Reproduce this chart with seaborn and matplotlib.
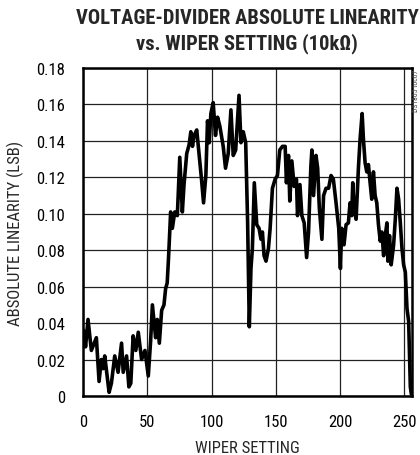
import pandas as pd
import matplotlib
matplotlib.use('Agg')
import matplotlib.pyplot as plt
import seaborn as sns

# Values (wiper code, linearity in LSB)
wiper = [0.5, 2.0, 3.9, 6.5, 10.4, 12.5, 14.3, 15.6, 16.9, 20.3, 22.1, 24.7,
         27.3, 30.0, 31.3, 33.9, 35.7, 37.2, 39.0, 41.1, 43.0, 45.6, 48.2, 50.8,
         52.6, 54.0, 56.5, 57.8, 59.4, 61.2, 63.0, 64.3, 65.5, 66.5, 68.2, 69.5,
         71.4, 73.4, 75.3, 77.3, 78.6, 80.7, 82.6, 83.9, 85.2, 86.5, 88.5, 90.4,
         92.2, 93.8, 95.6, 96.9, 98.2, 99.5, 101.3, 103.1, 104.7, 106.5, 109.1,
         110.9, 113.0, 115.1, 116.9, 118.8, 121.4, 122.9, 124.7, 126.6, 128.1,
         129.4, 130.7, 131.8, 133.3, 135.2, 137.0, 138.5, 139.6, 140.9, 142.4,
         144.3, 145.6, 147.4, 149.5, 151.3, 153.1, 155.2, 157.3, 158.3, 159.9,
         160.9, 162.5, 164.3, 166.1, 166.9, 168.8, 170.3, 172.1, 174.0, 175.5,
         177.3, 178.1, 179.4, 181.3, 182.6, 183.9, 185.9, 187.2, 189.1, 191.1,
         193.0, 194.8, 196.9, 199.0, 200.3, 201.3, 203.1, 204.7, 206.5, 207.8,
         209.1, 209.9, 210.9, 212.5, 214.3, 215.6, 217.2, 218.2, 219.5, 220.8,
         222.1, 223.4, 224.7, 226.0, 227.3, 228.6, 229.9, 231.3, 232.6, 233.9,
         235.2, 236.5, 237.2, 238.5, 239.8, 241.7, 243.0, 244.3, 245.6, 246.9,
         248.2, 249.5, 250.8, 252.1, 253.4, 254.7, 255.5]
linearity = [0.036, 0.027, 0.042, 0.025, 0.032, 0.008, 0.020, 0.015, 0.022, 0.002,
             0.007, 0.022, 0.013, 0.029, 0.013, 0.022, 0.005, 0.007, 0.033, 0.025,
             0.035, 0.020, 0.025, 0.011, 0.030, 0.050, 0.032, 0.042, 0.029, 0.047,
             0.050, 0.059, 0.062, 0.075, 0.101, 0.092, 0.101, 0.099, 0.131, 0.101,
             0.116, 0.133, 0.138, 0.145, 0.137, 0.143, 0.146, 0.132, 0.119, 0.106,
             0.121, 0.151, 0.139, 0.155, 0.161, 0.143, 0.153, 0.148, 0.137, 0.125,
             0.133, 0.157, 0.132, 0.135, 0.165, 0.139, 0.145, 0.139, 0.095, 0.038,
             0.070, 0.081, 0.117, 0.094, 0.092, 0.086, 0.090, 0.077, 0.074, 0.081,
             0.092, 0.114, 0.119, 0.121, 0.135, 0.137, 0.137, 0.117, 0.132, 0.107,
             0.129, 0.115, 0.119, 0.099, 0.116, 0.099, 0.095, 0.076, 0.090, 0.126,
             0.135, 0.110, 0.132, 0.125, 0.103, 0.086, 0.110, 0.114, 0.114, 0.121,
             0.119, 0.106, 0.092, 0.070, 0.092, 0.083, 0.094, 0.095, 0.106, 0.099,
             0.117, 0.103, 0.097, 0.125, 0.141, 0.155, 0.141, 0.128, 0.123, 0.127,
             0.117, 0.108, 0.123, 0.110, 0.106, 0.094, 0.085, 0.090, 0.077, 0.088,
             0.095, 0.074, 0.088, 0.072, 0.083, 0.097, 0.114, 0.108, 0.095, 0.081,
             0.072, 0.068, 0.048, 0.041, 0.005, 0.001]

x_ticks = [0, 50, 100, 150, 200, 250]
y_ticks = [0, 0.02, 0.04, 0.06, 0.08, 0.10, 0.12, 0.14, 0.16, 0.18]
y_labels = ['0', '0.02', '0.04', '0.06', '0.08', '0.10', '0.12', '0.14', '0.16', '0.18']

df = pd.DataFrame({'Wiper': wiper, 'Linearity': linearity})

sns.set_style('white')
plt.rcParams['font.family'] = ['Roboto Condensed', 'Liberation Sans Narrow', 'DejaVu Sans']
plt.rcParams['font.stretch'] = 'condensed'

fig = plt.figure(figsize=(4.2, 4.56), dpi=100)
ax = fig.add_axes([83 / 420, 59 / 456, 329 / 420, 328 / 456])

sns.lineplot(data=df, x='Wiper', y='Linearity', estimator=None, sort=False,
             color='black', linewidth=2.6, ax=ax)

ax.set_xlim(0, 256)
ax.set_ylim(0, 0.18)
ax.set_xticks(x_ticks)
ax.set_yticks(y_ticks)
ax.set_yticklabels(y_labels)
ax.grid(True, color='#222222', linewidth=0.9)
ax.set_axisbelow(True)
ax.tick_params(length=0, labelsize=12, colors='black')
ax.tick_params(axis='y', pad=13)
ax.tick_params(axis='x', pad=13)
for s in ax.spines.values():
    s.set_color('black')
    s.set_linewidth(1.8)

ax.set_xlabel('WIPER SETTING', fontsize=12, labelpad=8)
ax.set_ylabel('ABSOLUTE LINEARITY (LSB)', fontsize=12, labelpad=9)

fig.text(247 / 420, 1 - 9 / 456,
         'VOLTAGE-DIVIDER ABSOLUTE LINEARITY\nvs. WIPER SETTING (10k\u03a9)',
         ha='center', va='top', fontsize=14.8, fontweight='bold', linespacing=1.3)
fig.text(419 / 420, 1 - 70 / 456, 'DS1805 toc07', rotation=90,
         ha='right', va='top', fontsize=5.5, color='#444444')

fig.savefig('out.png', dpi=100)
plt.close()
